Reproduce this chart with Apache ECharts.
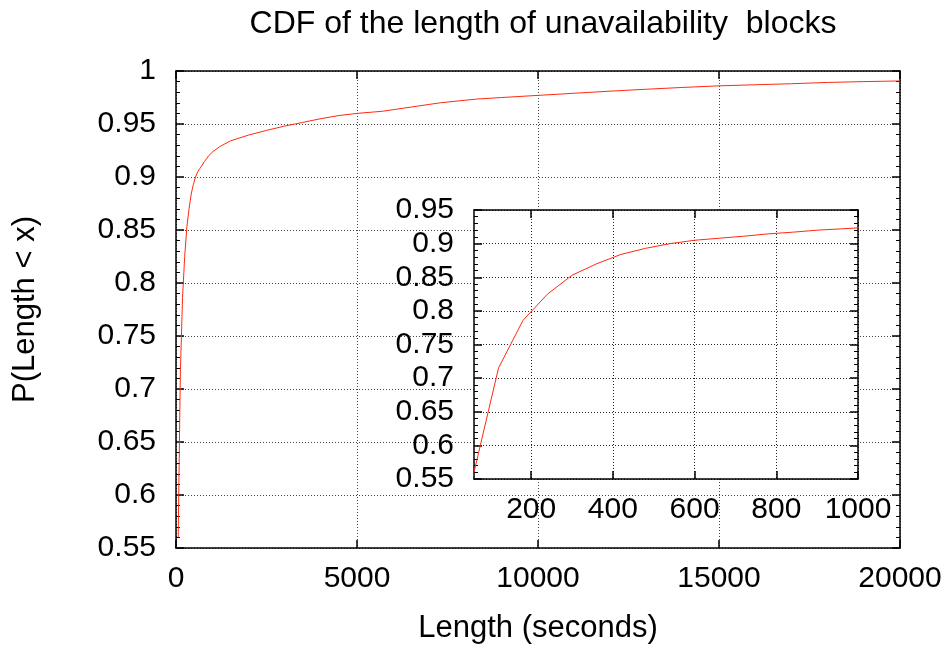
<!DOCTYPE html>
<html>
<head>
<meta charset="utf-8">
<script src="https://cdn.jsdelivr.net/npm/echarts@6/dist/echarts.min.js"></script>
<style>html,body{margin:0;padding:0;background:#fff}#c{width:952px;height:649px}</style>
</head>
<body>
<div id="c"></div>
<script>
var titleText = 'CDF of the length of unavailability  blocks';
var xName = 'Length (seconds)';
var yName = 'P(Length < x)';
var lengthSec = [60,120,180,240,300,360,420,480,540,600,660,720,780,840,900,960,1020,
  1200,1500,2000,2500,3000,3500,4000,4500,5000,5700,6500,7000,7300,8300,9000,10000,
  11000,12000,13000,14000,15000,16000,17000,18000,19000,20000];
var cdf = [0.560,0.715,0.786,0.825,0.853,0.870,0.884,0.893,0.900,0.905,0.908,0.911,0.9145,0.917,0.920,0.922,0.924,
  0.9285,0.934,0.9395,0.944,0.948,0.9515,0.955,0.958,0.960,0.962,0.966,0.9685,0.970,0.9735,0.975,0.977,
  0.979,0.981,0.9828,0.9845,0.986,0.987,0.988,0.9892,0.990,0.9906];
var insetXTicks = [200,400,600,800,1000];
var insetXMax = 1000;

var mainData = lengthSec.map(function(x,i){return [x,cdf[i]];});
var insetData = mainData.filter(function(p){return p[0] <= 1020;});

var FONT = 'Liberation Sans, Arial, Helvetica, sans-serif';
var FS = 30;
var lineBlack = {show:true, onZero:false, lineStyle:{color:'#000', width:1.5}};
var dotted = {show:true, lineStyle:{color:'#444', width:1, type:[1,2]}};
var lbl = {color:'#000', fontSize:FS, fontFamily:FONT};
var nameLbl = {color:'#000', fontSize:31, fontFamily:FONT};
var plain = function(v){ return String(Math.round(v*1000)/1000); };

var chart = echarts.init(document.getElementById('c'));
chart.setOption({
  animation:false,
  backgroundColor:'#fff',
  title:{text:titleText, left:538, top:3, textAlign:'center',
    textStyle:{color:'#000', fontSize:32, fontWeight:'normal', fontFamily:FONT}},
  grid:[
    {left:176, top:71, width:724, height:480, containLabel:false},
    {left:474, top:210, width:384, height:269, show:true, backgroundColor:'#fff', borderWidth:0, z:10}
  ],
  xAxis:[
    {type:'value', gridIndex:0, min:0, max:20000, interval:5000, position:'bottom',
     name:xName, nameLocation:'middle', nameGap:65, nameTextStyle:nameLbl,
     axisLine:lineBlack, axisTick:{show:true, inside:true, length:8, lineStyle:{color:'#000', width:1.5}},
     axisLabel:Object.assign({margin:16, formatter:plain}, lbl), splitLine:dotted},
    {type:'value', gridIndex:0, min:0, max:20000, interval:5000, position:'top',
     axisLine:lineBlack, axisTick:{show:true, inside:true, length:8, lineStyle:{color:'#000', width:1.5}},
     axisLabel:{show:false}, splitLine:{show:false}},
    {type:'value', gridIndex:1, min:60, max:insetXMax, position:'bottom', z:11,
     axisLine:lineBlack,
     axisTick:{show:true, inside:true, length:8, customValues:insetXTicks, lineStyle:{color:'#000', width:1.5}},
     axisLabel:Object.assign({margin:16, customValues:insetXTicks, formatter:plain}, lbl),
     splitLine:{show:true, lineStyle:{color:'#222', width:1, type:[1,2]}}},
    {type:'value', gridIndex:1, min:60, max:insetXMax, position:'top', z:11,
     axisLine:lineBlack,
     axisTick:{show:true, inside:true, length:8, customValues:insetXTicks, lineStyle:{color:'#000', width:1.5}},
     axisLabel:{show:false}, splitLine:{show:false}}
  ],
  yAxis:[
    {type:'value', gridIndex:0, min:0.55, max:1, interval:0.05, position:'left',
     name:yName, nameLocation:'middle', nameGap:135, nameRotate:90, nameTextStyle:nameLbl,
     axisLine:lineBlack, axisTick:{show:true, inside:true, length:8, lineStyle:{color:'#000', width:1.5}},
     minorTick:{show:true, splitNumber:5, length:4, lineStyle:{color:'#000', width:1}},
     axisLabel:Object.assign({margin:20, formatter:plain}, lbl), splitLine:dotted},
    {type:'value', gridIndex:0, min:0.55, max:1, interval:0.05, position:'right',
     axisLine:lineBlack, axisTick:{show:true, inside:true, length:8, lineStyle:{color:'#000', width:1.5}},
     minorTick:{show:true, splitNumber:5, length:4, lineStyle:{color:'#000', width:1}},
     axisLabel:{show:false}, splitLine:{show:false}},
    {type:'value', gridIndex:1, min:0.55, max:0.95, interval:0.05, position:'left', z:11,
     axisLine:lineBlack, axisTick:{show:true, inside:true, length:8, lineStyle:{color:'#000', width:1.5}},
     minorTick:{show:true, splitNumber:5, length:4, lineStyle:{color:'#000', width:1}},
     axisLabel:Object.assign({margin:20, formatter:plain}, lbl),
     splitLine:{show:true, lineStyle:{color:'#222', width:1, type:[1,2]}}},
    {type:'value', gridIndex:1, min:0.55, max:0.95, interval:0.05, position:'right', z:11,
     axisLine:lineBlack, axisTick:{show:true, inside:true, length:8, lineStyle:{color:'#000', width:1.5}},
     minorTick:{show:true, splitNumber:5, length:4, lineStyle:{color:'#000', width:1}},
     axisLabel:{show:false}, splitLine:{show:false}}
  ],
  series:[
    {type:'line', xAxisIndex:0, yAxisIndex:0, data:mainData, showSymbol:false, symbol:'none',
     lineStyle:{color:'#ff2a10', width:1}, clip:true, z:3},
    {type:'line', xAxisIndex:2, yAxisIndex:2, data:insetData, showSymbol:false, symbol:'none',
     lineStyle:{color:'#ff2a10', width:1}, clip:true, z:12}
  ]
});
</script>
</body>
</html>
